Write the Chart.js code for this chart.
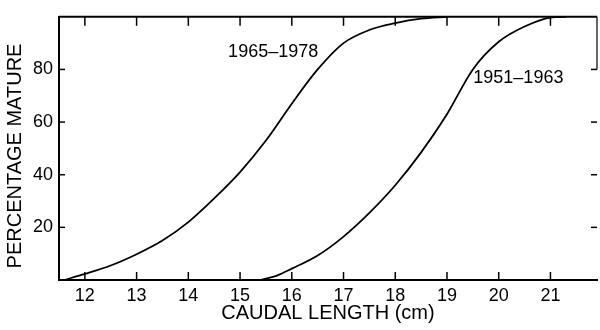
<!DOCTYPE html>
<html>
<head>
<meta charset="utf-8">
<script src="https://cdn.jsdelivr.net/npm/chart.js@4"></script>
<style>
  html, body { margin: 0; padding: 0; background: #fff; }
  canvas { display: block; }
</style>
</head>
<body>
<canvas id="chart" width="600" height="330"></canvas>
<script>
// Caudal length (cm) against percentage of mature fish, two sampling periods
const lengthsLate = [11.6, 12, 12.5, 13, 13.5, 14, 14.5, 15, 15.5, 16, 16.5, 17, 17.5, 18, 18.5, 19];
const matureLate  = [0, 2.3, 5.5, 9.8, 15, 22, 31, 41, 53, 67, 80, 90, 95, 97.6, 99.3, 100];

const lengthsEarly = [15.4, 15.7, 16, 16.5, 17, 17.5, 18, 18.5, 19, 19.5, 20, 20.5, 21, 21.3];
const matureEarly  = [0, 1.6, 4.3, 9.3, 16.5, 25.5, 36, 48.5, 63, 80, 90.5, 96.3, 99.7, 100];

const periodLabels = ['1965\u20131978', '1951\u20131963'];
// where each period's name sits, in data units (length, percent)
const labelAnchors = [[15.64, 86.6], [20.38, 76.9]];

const xTicks = [12, 13, 14, 15, 16, 17, 18, 19, 20, 21];
const yTicks = [20, 40, 60, 80];

const toPoints = (xs, ys) => xs.map((v, i) => ({ x: v, y: ys[i] }));

Chart.defaults.color = '#000';
Chart.defaults.font.family = '"Liberation Sans", Arial, sans-serif';

// Frame pieces, inward tick marks and curve names
const framePlugin = {
  id: 'frame',
  afterDatasetsDraw(chart) {
    const { ctx, chartArea: { left, right, top, bottom }, scales: { x, y } } = chart;
    const seg = (x1, y1, x2, y2) => { ctx.beginPath(); ctx.moveTo(x1, y1); ctx.lineTo(x2, y2); ctx.stroke(); };
    ctx.save();
    ctx.strokeStyle = '#000';
    ctx.lineCap = 'butt';
    ctx.lineWidth = 2;
    seg(left, top, right, top);
    ctx.lineWidth = 1.2;
    seg(right, top, right, y.getPixelForValue(80));
    ctx.lineWidth = 1.5;
    xTicks.forEach(v => {
      const px = x.getPixelForValue(v);
      seg(px, bottom, px, bottom - 8);
      seg(px, top, px, top + 9);
    });
    yTicks.forEach(v => {
      const py = y.getPixelForValue(v);
      seg(left, py, left + 6, py);
      seg(right, py, right - 6, py);
    });
    ctx.fillStyle = '#000';
    ctx.font = '18px "Liberation Sans", Arial, sans-serif';
    ctx.textAlign = 'center';
    ctx.textBaseline = 'middle';
    periodLabels.forEach((t, i) => {
      ctx.fillText(t, x.getPixelForValue(labelAnchors[i][0]), y.getPixelForValue(labelAnchors[i][1]));
    });
    // vertical axis title
    ctx.font = '20px "Liberation Sans", Arial, sans-serif';
    ctx.translate(15, 156);
    ctx.rotate(-Math.PI / 2);
    ctx.fillText('PERCENTAGE MATURE', 0, 0);
    ctx.restore();
  }
};

new Chart(document.getElementById('chart'), {
  type: 'line',
  data: {
    datasets: [
      { label: periodLabels[0], data: toPoints(lengthsLate, matureLate) },
      { label: periodLabels[1], data: toPoints(lengthsEarly, matureEarly) }
    ]
  },
  options: {
    responsive: false,
    animation: false,
    events: [],
    layout: { padding: { top: 13, right: 3, left: 0, bottom: 0 } },
    elements: {
      line: { borderColor: '#000', borderWidth: 1.8, cubicInterpolationMode: 'monotone', fill: false },
      point: { radius: 0 }
    },
    plugins: { legend: { display: false }, tooltip: { enabled: false } },
    scales: {
      x: {
        type: 'linear',
        min: 11.5,
        max: 21.9,
        afterBuildTicks: s => { s.ticks = xTicks.map(v => ({ value: v })); },
        afterFit: s => { s.height = 50; },
        grid: { display: false, drawTicks: false },
        border: { display: true, color: '#000', width: 2 },
        ticks: { padding: 5, font: { size: 18 }, maxRotation: 0, autoSkip: false },
        title: {
          display: true,
          text: 'CAUDAL LENGTH (cm)',
          font: { size: 20 },
          padding: { top: 0, bottom: 5 }
        }
      },
      y: {
        type: 'linear',
        min: 0,
        max: 100,
        afterBuildTicks: s => { s.ticks = yTicks.map(v => ({ value: v })); },
        afterFit: s => { s.width = 59; },
        grid: { display: false, drawTicks: false },
        border: { display: true, color: '#000', width: 2 },
        ticks: { padding: 6, font: { size: 18 } }
      }
    }
  },
  plugins: [framePlugin]
});
</script>
</body>
</html>
